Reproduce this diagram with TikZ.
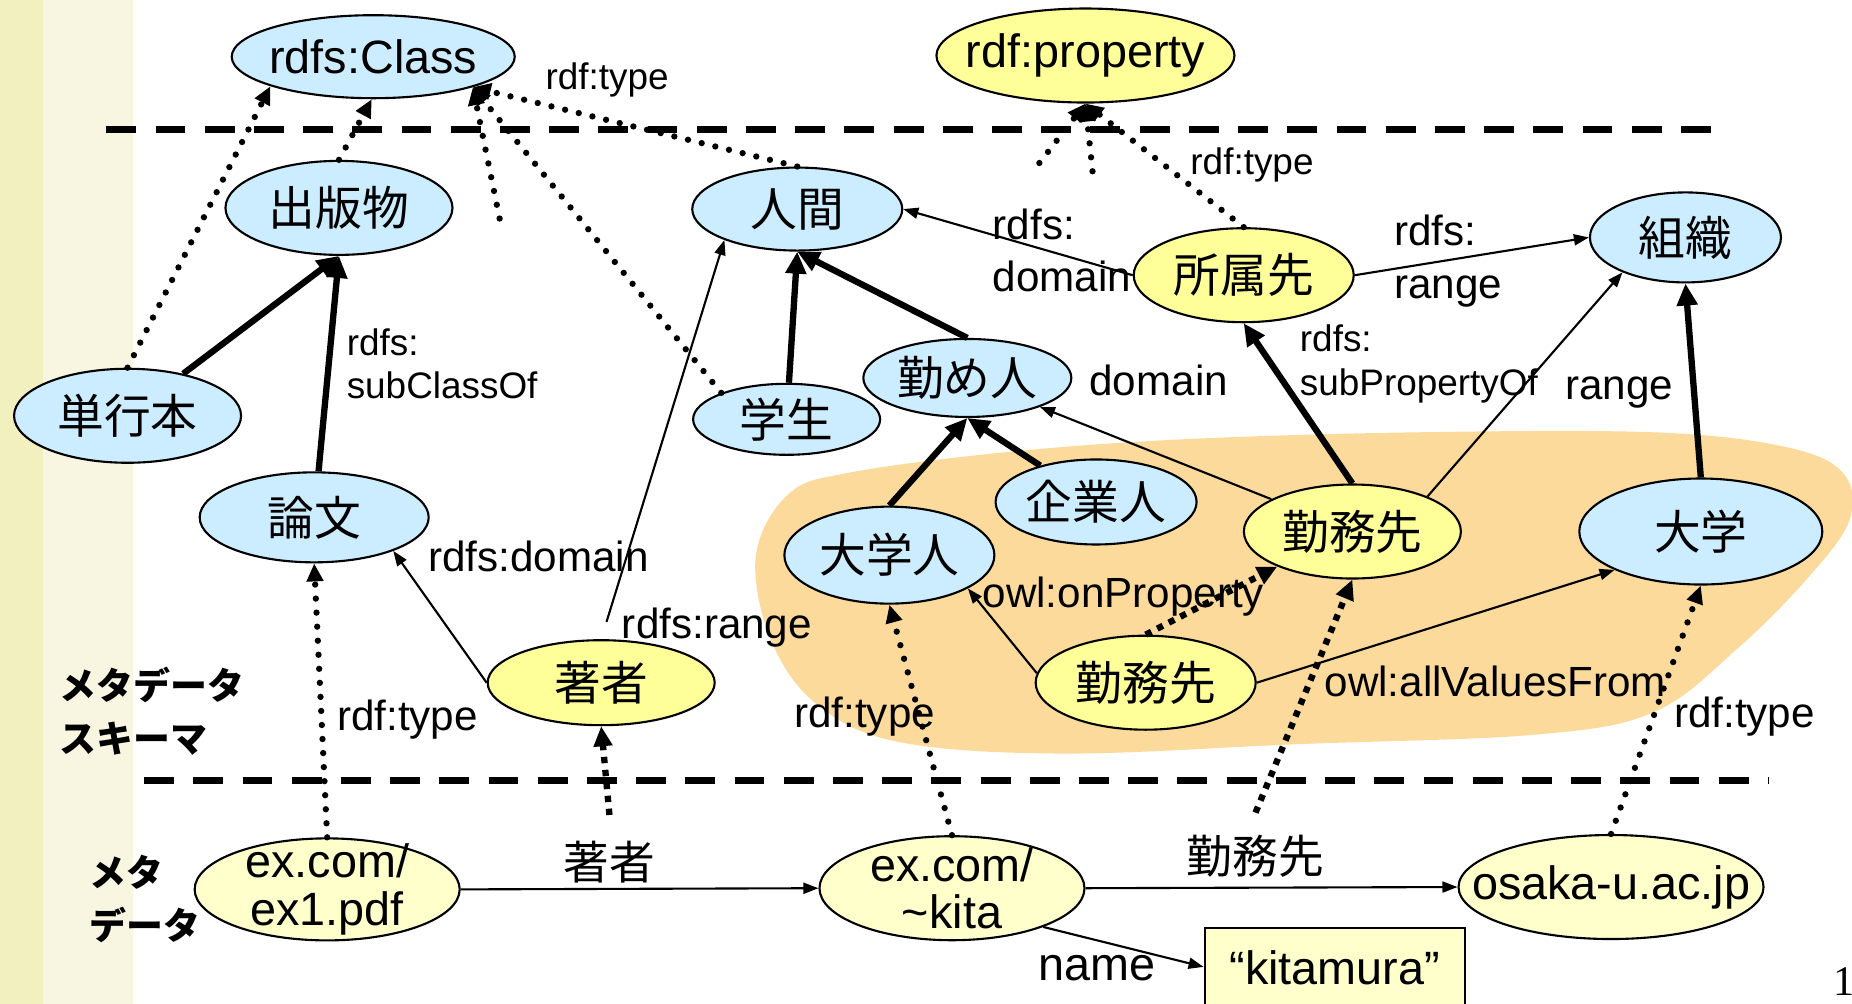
\documentclass[tikz,border=0pt]{standalone}
\usepackage{fontspec}
\setmainfont{Liberation Sans}
\newfontfamily\jp{Noto Sans CJK JP}
\newfontfamily\pgnum{Liberation Serif}
\usetikzlibrary{shapes.geometric,arrows.meta}
\definecolor{clsblue}{RGB}{204,236,255}
\definecolor{propyel}{RGB}{255,255,153}
\definecolor{instyel}{RGB}{255,255,204}
\definecolor{blobor}{RGB}{252,218,155}
\definecolor{stripA}{RGB}{243,240,192}
\definecolor{stripB}{RGB}{248,246,224}

\begin{document}
\begin{tikzpicture}[x=0.011811cm, y=-0.011811cm,
    every node/.style={inner sep=0pt},
    nd/.style={ellipse, draw, line width=0.6pt, inner xsep=-15pt, inner ysep=-10pt, align=center, font=\fontsize{13.3}{13.5}\selectfont},
    cls/.style={nd, fill=clsblue},
    prp/.style={nd, fill=propyel},
    ins/.style={nd, fill=instyel},
    jn/.style={font=\jp\fontsize{13.3}{13.5}\selectfont},
    lbl/.style={align=left, font=\fontsize{12}{15}\selectfont},
    slbl/.style={align=left, font=\fontsize{10.5}{12.5}\selectfont},
    plbl/.style={font=\jp\fontsize{13}{15}\selectfont},
    sidelbl/.style={align=left, font=\jp\bfseries\fontsize{10.5}{15}\selectfont},
    sub/.style={line width=1.8pt, -{Triangle[length=0.22cm, width=0.2cm]}},
    rel/.style={line width=0.6pt, -{Triangle[length=0.15cm, width=0.11cm]}},
    typ/.style={line width=1.8pt, line cap=round, dash pattern=on 0pt off 4pt, -{Triangle[length=0.18cm, width=0.16cm]}},
    pty/.style={line width=1.8pt, dash pattern=on 1.8pt off 1.9pt, -{Triangle[length=0.2cm, width=0.18cm]}},
    sep/.style={line width=2pt, dash pattern=on 8.5pt off 5.5pt}]
    \useasboundingbox (0,0) rectangle (1568,850);
    \fill[stripA] (0,0) rectangle (36,850);
    \fill[stripB] (36,0) rectangle (113,850);
    \fill[blobor] plot[smooth cycle, tension=0.6] coordinates {(640,470) (668,418) (720,400) (850,383) (1000,372) (1200,366) (1400,366) (1510,378) (1560,400) (1566,440) (1530,490) (1470,550) (1400,603) (1300,622) (1100,630) (900,638) (760,628) (690,595) (652,540)};

    \draw[sep] (90,110) -- (1460,110);
    \draw[sep] (122,661) -- (1497,661);

    \node[cls, minimum width=2.83cm, minimum height=0.83cm] (cls) at (316,48) {rdfs:Class};
    \node[prp, minimum width=2.98cm, minimum height=0.94cm] (prop) at (919,47) {rdf:property};
    \node[cls, jn, minimum width=2.27cm, minimum height=0.94cm] (pub) at (287,176) {出版物};
    \node[cls, jn, minimum width=2.10cm, minimum height=0.83cm] (human) at (675,177) {人間};
    \node[prp, jn, minimum width=2.20cm, minimum height=0.94cm] (affil) at (1053,233) {所属先};
    \node[cls, jn, minimum width=1.91cm, minimum height=0.90cm] (org) at (1427,201) {組織};
    \node[cls, jn, minimum width=2.27cm, minimum height=0.94cm] (book) at (108,352) {単行本};
    \node[cls, jn, minimum width=1.87cm, minimum height=0.71cm] (student) at (666,355) {学生};
    \node[cls, jn, minimum width=2.08cm, minimum height=0.78cm] (worker) at (819,320) {勤め人};
    \node[cls, jn, minimum width=2.29cm, minimum height=0.90cm] (paper) at (266,438) {論文};
    \node[cls, jn, minimum width=2.01cm, minimum height=0.85cm] (corp) at (928,425) {企業人};
    \node[prp, jn, minimum width=2.17cm, minimum height=0.94cm] (emp) at (1145,450) {勤務先};
    \node[cls, jn, minimum width=2.43cm, minimum height=1.06cm] (univ) at (1440,450) {大学};
    \node[cls, jn, minimum width=2.10cm, minimum height=0.97cm] (unip) at (753,470) {大学人};
    \node[prp, jn, minimum width=2.27cm, minimum height=0.85cm] (author) at (509,578) {著者};
    \node[prp, jn, minimum width=2.20cm, minimum height=0.94cm] (empR) at (970,578) {勤務先};
    \node[ins, minimum width=2.65cm, minimum height=1.02cm] (doc) at (277,753) {ex.com/\\ex1.pdf};
    \node[ins, minimum width=2.65cm, minimum height=1.04cm] (kita) at (806,752) {ex.com/\\\textasciitilde kita};
    \node[ins, minimum width=3.05cm, minimum height=1.04cm] (osaka) at (1364,751) {osaka-u.ac.jp};
    \node[draw, line width=0.6pt, fill=instyel, minimum width=2.60cm, text height=0.34cm, text depth=0.55cm, inner ysep=0.22cm, anchor=north, font=\fontsize{13.3}{15}\selectfont] (kitamura) at (1130,785) {“kitamura”};

    \coordinate (stubA) at (423,185);
    \coordinate (stubB) at (880,138);
    \coordinate (stubC) at (925,145);
    \coordinate (tailA) at (516,690);
    \coordinate (tailB) at (1063,688);

    \draw[sub] (book) -- (pub.south);
    \draw[sub] (paper) -- (pub.south);
    \draw[sub] (student) -- (human.south);
    \draw[sub] (worker.north) -- (human.south);
    \draw[sub] (unip.north) -- (worker.south);
    \draw[sub] (corp) -- (worker.south);
    \draw[sub] (emp.north) -- (affil.south);
    \draw[sub] (univ.north) -- (org.south);

    \draw[rel] (affil.west) -- (human.east);
    \draw[rel] (affil.east) -- (org.west);
    \draw[rel] (author.west) -- (paper.-23);
    \draw[rel, shorten <=0.18cm] (author.north) -- (human.-157);
    \draw[rel] (emp) -- (worker);
    \draw[rel] (emp.25) -- (org.-151);
    \draw[rel] (empR.175) -- (unip.-23);
    \draw[rel] (empR.east) -- (univ.-156);
    \draw[rel] (doc.east) -- (kita.west);
    \draw[rel] (kita.east) -- (osaka.west);
    \draw[rel] (kita.-23) -- (kitamura.168);

    \draw[typ] (book.north) -- (cls.-164);
    \draw[typ] (pub.north) -- (cls.-92);
    \draw[typ] (human.north) -- (cls.-17);
    \draw[typ] (student.158) -- (cls.-17);
    \draw[typ] (stubA) -- (cls.-17);
    \draw[typ] (stubB) -- (prop.south);
    \draw[typ] (stubC) -- (prop.south);
    \draw[typ] (affil.north) -- (prop.south);
    \draw[typ] (doc.north) -- (paper.south);
    \draw[typ] (kita.north) -- (unip.south);
    \draw[typ] (osaka.north) -- (univ.south);

    \draw[pty] (tailA) -- (author.south);
    \draw[pty] (tailB) -- (emp.south);
    \draw[pty] (empR.north) -- (emp.-155);

    \node[slbl] (lTypeA) at (514,68) {rdf:type};
    \node[slbl, anchor=west] (lSubCls) at (293,308) {rdfs:\\subClassOf};
    \node[lbl, anchor=west] (lDomA) at (840,212) {rdfs:\\domain};
    \node[slbl] (lTypeB) at (1060,140) {rdf:type};
    \node[lbl, anchor=west] (lRngA) at (1180,221) {rdfs:\\range};
    \node[slbl, anchor=west] (lSubPrp) at (1100,308) {rdfs:\\subPropertyOf};
    \node[lbl] (lDomB) at (981,322) {domain};
    \node[lbl] (lRngB) at (1371,332) {range};
    \node[lbl] (lDomC) at (456,471) {rdfs:domain};
    \node[lbl] (lRngC) at (607,531) {rdfs:range};
    \node[lbl] (lOnP) at (951,505) {owl:onProperty};
    \node[lbl] (lAVF) at (1266,577) {owl:allValuesFrom};
    \node[lbl] (lTypeC) at (345,609) {rdf:type};
    \node[lbl] (lTypeD) at (732,607) {rdf:type};
    \node[lbl] (lTypeE) at (1477,607) {rdf:type};
    \node[sidelbl, anchor=west] (lSchema) at (50,602) {メタデータ\\スキーマ};
    \node[sidelbl, anchor=west] (lMeta) at (75,761) {メタ\\データ};
    \node[plbl] (lAuthor) at (516,730) {著者};
    \node[plbl] (lEmp) at (1063,725) {勤務先};
    \node[font=\fontsize{13.3}{15}\selectfont] (lName) at (929,820) {name};
    \node[anchor=base west, font=\pgnum\fontsize{12}{14}\selectfont] (pgno) at (1552,843) {1};
\end{tikzpicture}
\end{document}
